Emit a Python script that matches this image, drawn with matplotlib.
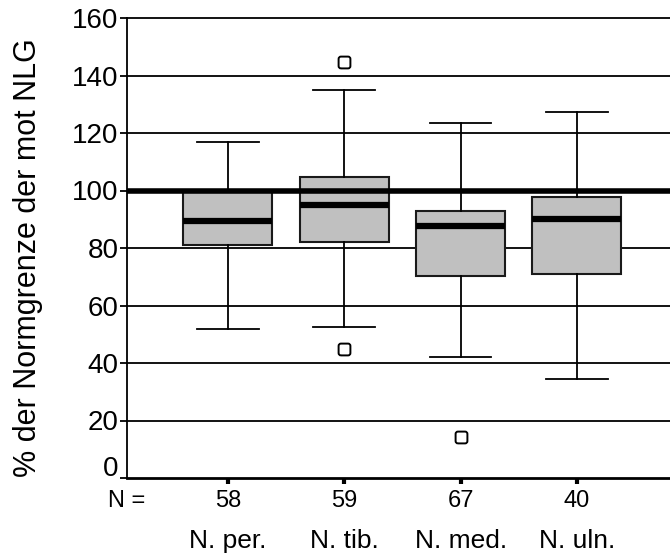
import matplotlib
matplotlib.use("Agg")
import matplotlib.pyplot as plt
import matplotlib.transforms as mtransforms
from matplotlib.path import Path
import numpy as np

plt.rcParams['font.family'] = ['Liberation Sans', 'DejaVu Sans']

# Nerve categories and sample sizes
categories = ["N. per.", "N. tib.", "N. med.", "N. uln."]
counts = [58, 59, 67, 40]

# Box-plot statistics (% of the normal limit)
whisker_low = [52.0, 52.5, 42.0, 34.5]
q1 = [81.0, 82.2, 70.3, 70.8]
median = [89.5, 95.0, 87.5, 90.2]
q3 = [99.7, 104.6, 92.7, 97.8]
whisker_high = [116.7, 134.8, 123.5, 127.3]
outliers = [[], [144.8, 44.9], [14.2], []]

y_ticks = [0, 20, 40, 60, 80, 100, 120, 140, 160]
y_label = "% der Normgrenze der mot NLG"

W, H, DPI = 670, 553, 100
fig = plt.figure(figsize=(W / DPI, H / DPI), dpi=DPI)
ax = fig.add_axes([127 / W, 1 - 478 / H, 1 - 127 / W, (478 - 18) / H])

positions = np.arange(1, len(categories) + 1)


def rounded_square(r=0.4):
    """Square marker with rounded corners, as used for outliers."""
    s = 1.0
    pts = [(-s + r, -s), (s - r, -s), (s, -s), (s, -s + r), (s, s - r), (s, s),
           (s - r, s), (-s + r, s), (-s, s), (-s, s - r), (-s, -s + r), (-s, -s),
           (-s + r, -s)]
    codes = [Path.MOVETO, Path.LINETO, Path.CURVE3, Path.CURVE3, Path.LINETO,
             Path.CURVE3, Path.CURVE3, Path.LINETO, Path.CURVE3, Path.CURVE3,
             Path.LINETO, Path.CURVE3, Path.CURVE3]
    return Path(pts, codes)


marker = rounded_square()

stats = []
for i in range(len(categories)):
    stats.append(dict(med=median[i], q1=q1[i], q3=q3[i],
                      whislo=whisker_low[i], whishi=whisker_high[i],
                      fliers=outliers[i], label=categories[i]))

# horizontal grid lines
for t in y_ticks[1:]:
    ax.axhline(t, color="black", lw=1.3, zorder=1, clip_on=False)
# reference line at 100 %
ax.axhline(100, color="black", lw=4.0, zorder=4)

ax.bxp(stats, positions=positions, widths=0.765, patch_artist=True,
       showfliers=True,
       boxprops=dict(facecolor="#c0c0c0", edgecolor="#1a1a1a", lw=1.5),
       medianprops=dict(color="black", lw=4.5),
       whiskerprops=dict(color="black", lw=1.3),
       capprops=dict(color="black", lw=1.3),
       capwidths=0.53,
       flierprops=dict(marker=marker, markersize=8.5, markerfacecolor="white",
                       markeredgecolor="black", markeredgewidth=1.4),
       zorder=3)

ax.set_xlim(0.132, 4.80)
ax.set_ylim(0, 160)

ax.spines["top"].set_visible(False)
ax.spines["right"].set_visible(False)
ax.spines["left"].set_linewidth(1.3)
ax.spines["bottom"].set_linewidth(2.0)

ax.set_yticks(y_ticks)
ax.set_yticklabels([str(t) for t in y_ticks], fontsize=20)
ax.tick_params(axis="y", length=5, width=1.3, pad=1)
ax.set_xticks(positions)
ax.set_xticklabels([])
ax.tick_params(axis="x", length=4, width=3, direction="out")

# lift the "0" label clear of the x axis row
fig.canvas.draw()
zero_lbl = ax.get_yticklabels()[0]
zero_lbl.set_transform(zero_lbl.get_transform()
                       + mtransforms.ScaledTranslation(0, 12 / DPI,
                                                       fig.dpi_scale_trans))

fig.text(28 / W, 1 - 258 / H, y_label, rotation=90, ha="center", va="center",
         fontsize=22)

# sample-size row and category labels under the axis
xt = ax.get_xaxis_transform()
ax.text(0.0, -0.0624, "N =", transform=ax.transAxes, ha="center",
        va="baseline", fontsize=17)
for p, n, c in zip(positions, counts, categories):
    ax.text(p, -0.0624, str(n), transform=xt, ha="center", va="baseline",
            fontsize=17)
    ax.text(p, -0.152, c, transform=xt, ha="center", va="baseline",
            fontsize=19)

fig.savefig("out.png", dpi=DPI)
